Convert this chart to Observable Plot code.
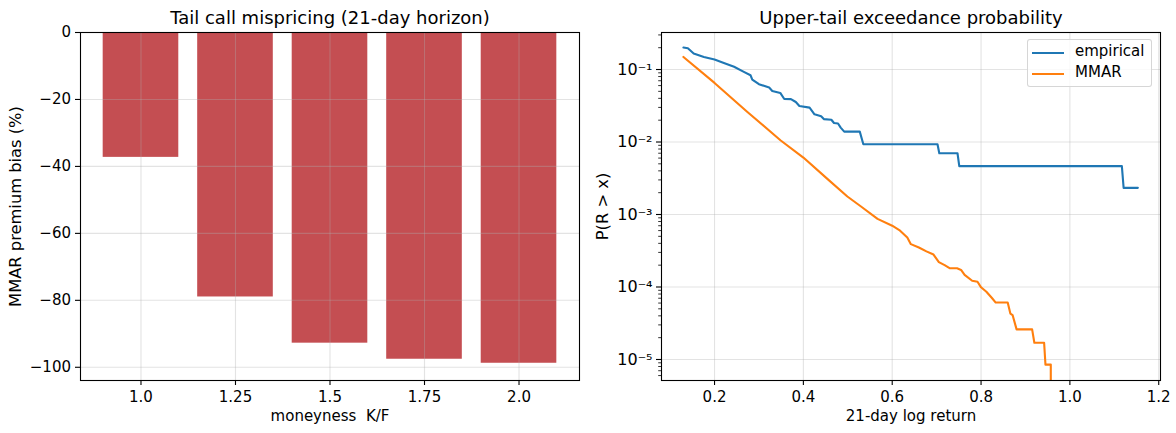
<!DOCTYPE html>
<html>
<head>
<meta charset="utf-8">
<script src="https://cdn.jsdelivr.net/npm/d3@7"></script>
<script src="https://cdn.jsdelivr.net/npm/@observablehq/plot@0.6"></script>
<style>
  html, body { margin: 0; padding: 0; background: #fff; }
  #wrap { position: relative; width: 1176px; height: 433px; display: flex; font-family: "DejaVu Sans", sans-serif; }
  .legend { position: absolute; left: 1027px; top: 39px; width: 125px; height: 48px;
    border: 1px solid rgba(204,204,204,0.8); border-radius: 3px; background: rgba(255,255,255,0.8);
    box-sizing: border-box; font-size: 15px; color: #000; }
  .legend .item { position: absolute; left: 0; height: 16px; }
  .legend .sw { position: absolute; left: 4px; width: 32px; height: 2px; }
  .legend .lb { position: absolute; left: 47px; top: -10px; line-height: 19px; white-space: nowrap; }
</style>
</head>
<body>
<div id="wrap"></div>
<script>
// ---------- Left panel data ----------
const moneyness = [1.0, 1.25, 1.5, 1.75, 2.0];
const moneynessLabels = ["1.0", "1.25", "1.5", "1.75", "2.0"];
const premiumBias = [-37.3, -79.0, -92.8, -97.6, -98.8];
const biasTicks = [0, -20, -40, -60, -80, -100];

// ---------- Right panel data ----------
const empX = [0.130, 0.140, 0.153, 0.176, 0.200, 0.221, 0.244, 0.266, 0.281, 0.285, 0.300, 0.323,
  0.330, 0.348, 0.357, 0.372, 0.383, 0.391, 0.414, 0.425, 0.440, 0.446, 0.463, 0.469, 0.478, 0.484,
  0.492, 0.527, 0.535, 0.702, 0.706, 0.747, 0.751, 1.117, 1.121, 1.153];
const empP = [0.201, 0.196, 0.166, 0.149, 0.137, 0.123, 0.109, 0.0927, 0.0834, 0.0727, 0.0627, 0.0564,
  0.0506, 0.0475, 0.0392, 0.039, 0.0356, 0.0314, 0.0298, 0.0241, 0.0226, 0.0207, 0.0203, 0.0183, 0.018, 0.0158,
  0.0139, 0.0139, 0.0093, 0.0093, 0.0070, 0.0070, 0.00465, 0.00465, 0.00233, 0.00233];

const mmarX = [0.130, 0.200, 0.274, 0.349, 0.400, 0.454, 0.499, 0.529, 0.567, 0.600, 0.616, 0.634, 0.642,
  0.660, 0.677, 0.693, 0.705, 0.718, 0.730, 0.746, 0.755, 0.763, 0.780,
  0.792, 0.800, 0.812, 0.825, 0.833, 0.860, 0.866, 0.871, 0.880, 0.915, 0.920, 0.942, 0.945, 0.957, 0.957];
const mmarP = [0.149, 0.0653, 0.0260, 0.0105, 0.0061, 0.0031, 0.00177, 0.0013, 0.00087, 0.00070, 0.00061, 0.00048, 0.00039,
  0.00035, 0.00031, 0.00028, 0.00022, 0.00020, 0.000181, 0.000181, 0.000172, 0.000147, 0.000122,
  0.000118, 0.000099, 0.000086, 0.000070, 0.000061, 0.000061, 0.000043, 0.000041, 0.000026, 0.000026, 0.000017, 0.000017, 0.0000085, 0.0000085, 0.000001];

const returnTicks = [0.2, 0.4, 0.6, 0.8, 1.0, 1.2];
const returnLabels = ["0.2", "0.4", "0.6", "0.8", "1.0", "1.2"];
const probMajor = [1e-5, 1e-4, 1e-3, 1e-2, 1e-1];
const probLabels = ["10⁻⁵", "10⁻⁴", "10⁻³", "10⁻²", "10⁻¹"];
const seriesNames = ["empirical", "MMAR"];
const seriesColors = ["#1f77b4", "#ff7f0e"];

// ---------- build tables ----------
const bars = moneyness.map((k, i) => ({k, bias: premiumBias[i]}));
const emp = empX.map((x, i) => ({x, p: empP[i]}));
const mmar = mmarX.map((x, i) => ({x, p: mmarP[i]}));
const probMinor = [];
for (let e = -6; e <= -1; e++) for (let m = 2; m <= 9; m++) probMinor.push(m * Math.pow(10, e));

const font = {fontFamily: "DejaVu Sans, sans-serif", fontSize: "15px", color: "#000", background: "#fff", overflow: "visible"};
const gridStyle = {stroke: "#b0b0b0", strokeOpacity: 0.35, strokeWidth: 1.1};
const TICK = 15, XLABEL = 15, YLABEL = 16.3, TITLE = 18;

const left = Plot.plot({
  width: 588, height: 433,
  marginLeft: 80, marginRight: 9, marginTop: 32, marginBottom: 53,
  style: font,
  x: {domain: [0.84, 2.16]},
  y: {domain: [-103.95, 0]},
  marks: [
    Plot.rect(bars, {x1: d => d.k - 0.1, x2: d => d.k + 0.1, y1: d => 0, y2: "bias", fill: "#c44e52"}),
    Plot.gridX(moneyness, gridStyle),
    Plot.gridY(biasTicks, gridStyle),
    Plot.frame({stroke: "#000", strokeWidth: 1.1}),
    Plot.axisX(moneyness, {tickSize: 5, tickPadding: 5.5, strokeWidth: 1.1, fontSize: TICK, label: null,
      tickFormat: d => moneynessLabels[moneyness.indexOf(d)]}),
    Plot.axisY(biasTicks, {tickSize: 5, tickPadding: 4.5, strokeWidth: 1.1, fontSize: TICK, label: null,
      tickFormat: d3.format("d")}),
    Plot.text(["Tail call mispricing (21-day horizon)"], {text: d => d, frameAnchor: "top", lineAnchor: "middle", textAnchor: "middle", dy: -14, fontSize: TITLE}),
    Plot.text(["moneyness\u00A0 K/F"], {text: d => d, frameAnchor: "bottom", lineAnchor: "middle", textAnchor: "middle", dy: 36, fontSize: XLABEL}),
    Plot.text(["MMAR premium bias (%)"], {text: d => d, frameAnchor: "left", lineAnchor: "middle", textAnchor: "middle", rotate: -90, dx: -65, fontSize: YLABEL})
  ]
});

const right = Plot.plot({
  width: 588, height: 433,
  marginLeft: 73, marginRight: 16, marginTop: 32, marginBottom: 53,
  style: font,
  x: {domain: [0.0806, 1.204]},
  y: {type: "log", domain: [5.13e-6, 0.324]},
  marks: [
    Plot.gridX(returnTicks, gridStyle),
    Plot.gridY(probMajor, gridStyle),
    Plot.line(emp, {x: "x", y: "p", stroke: seriesColors[0], strokeWidth: 2.1, clip: true}),
    Plot.line(mmar, {x: "x", y: "p", stroke: seriesColors[1], strokeWidth: 2.1, clip: true}),
    Plot.frame({stroke: "#000", strokeWidth: 1.1}),
    Plot.axisX(returnTicks, {tickSize: 5, tickPadding: 5.5, strokeWidth: 1.1, fontSize: TICK, label: null,
      tickFormat: d => returnLabels[returnTicks.indexOf(d)]}),
    Plot.axisY(probMinor.filter(v => v > 5.13e-6 && v < 0.324), {tickSize: 2.8, strokeWidth: 0.8, label: null, tickFormat: () => ""}),
    Plot.axisY(probMajor, {tickSize: 5, tickPadding: 4, strokeWidth: 1.1, fontSize: TICK + 1, label: null,
      tickFormat: d => probLabels[probMajor.indexOf(d)]}),
    Plot.text(["Upper-tail exceedance probability"], {text: d => d, frameAnchor: "top", lineAnchor: "middle", textAnchor: "middle", dy: -14, fontSize: TITLE}),
    Plot.text(["21-day log return"], {text: d => d, frameAnchor: "bottom", lineAnchor: "middle", textAnchor: "middle", dy: 36, fontSize: XLABEL}),
    Plot.text(["P(R > x)"], {text: d => d, frameAnchor: "left", lineAnchor: "middle", textAnchor: "middle", rotate: -90, dx: -59, fontSize: YLABEL})
  ]
});

const wrap = document.getElementById("wrap");
wrap.appendChild(left);
wrap.appendChild(right);

// legend
const leg = document.createElement("div");
leg.className = "legend";
seriesNames.forEach((name, i) => {
  const item = document.createElement("div");
  item.className = "item";
  item.style.top = (12 + i * 21) + "px";
  const sw = document.createElement("div");
  sw.className = "sw";
  sw.style.background = seriesColors[i];
  const lb = document.createElement("div");
  lb.className = "lb";
  lb.textContent = name;
  item.appendChild(sw);
  item.appendChild(lb);
  leg.appendChild(item);
});
wrap.appendChild(leg);
</script>
</body>
</html>
